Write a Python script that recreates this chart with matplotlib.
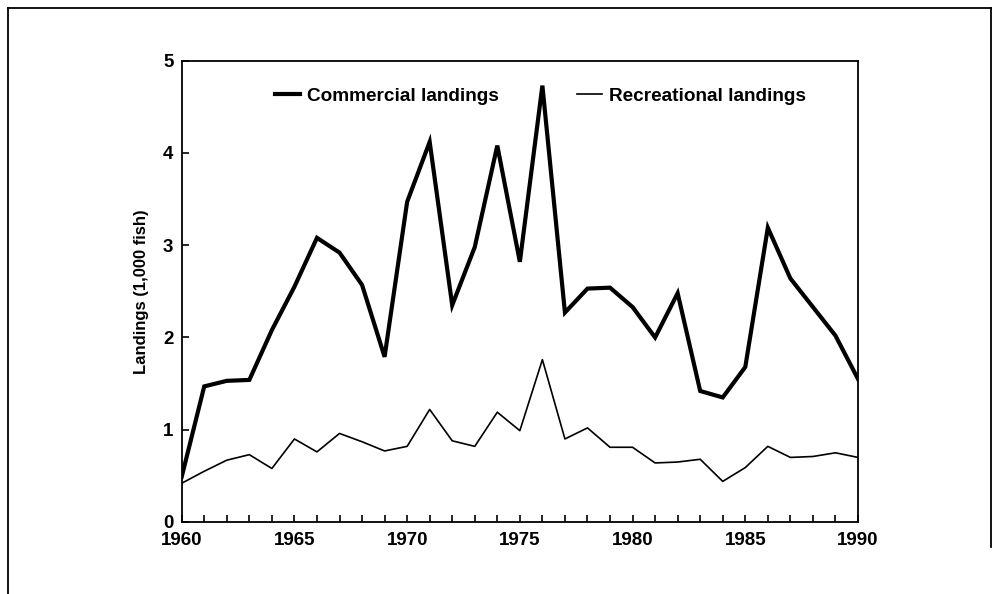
import matplotlib
matplotlib.use("Agg")
import matplotlib.pyplot as plt
from matplotlib.lines import Line2D

years = list(range(1960, 1991))
commercial = [0.49, 1.47, 1.53, 1.54, 2.08, 2.55, 3.08, 2.92, 2.57, 1.79,
              3.47, 4.12, 2.35, 2.98, 4.08, 2.82, 4.73, 2.27, 2.53, 2.54,
              2.33, 2.00, 2.48, 1.42, 1.35, 1.68, 3.19, 2.64, 2.33, 2.02, 1.55]
recreational = [0.42, 0.55, 0.67, 0.73, 0.58, 0.90, 0.76, 0.96, 0.87, 0.77,
                0.82, 1.22, 0.88, 0.82, 1.19, 0.99, 1.76, 0.90, 1.02, 0.81,
                0.81, 0.64, 0.65, 0.68, 0.44, 0.59, 0.82, 0.70, 0.71, 0.75, 0.70]
xticks_major = [1960, 1965, 1970, 1975, 1980, 1985, 1990]
yticks = [0, 1, 2, 3, 4, 5]
ylabel = "Landings (1,000 fish)"
labels = ["Commercial landings", "Recreational landings"]

plt.rcParams['font.family'] = ['Liberation Sans', 'DejaVu Sans']
plt.rcParams['font.weight'] = 'bold'

fig = plt.figure(figsize=(9.96, 5.94), dpi=100)
W, H = 996, 594
ax = fig.add_axes([181.7 / W, (H - 522) / H, (858 - 181.7) / W, (522 - 60.7) / H])

ax.plot(years, commercial, color='black', lw=3.0, solid_joinstyle='miter', label=labels[0])
ax.plot(years, recreational, color='black', lw=1.2, label=labels[1])

ax.set_xlim(1960, 1990)
ax.set_ylim(0, 5)
ax.set_xticks(xticks_major)
ax.set_xticks(years, minor=True)
ax.set_yticks(yticks)
ax.tick_params(axis='both', which='both', direction='in', labelsize=13.5, width=1.2, color='black')
ax.tick_params(axis='x', which='major', length=5, pad=7)
ax.tick_params(axis='x', which='minor', length=5)
ax.tick_params(axis='y', which='major', length=5, pad=6)
for lab in ax.get_xticklabels() + ax.get_yticklabels():
    lab.set_fontweight('bold')
ax.set_ylabel(ylabel, fontsize=12, fontweight='bold', labelpad=10)
for s in ax.spines.values():
    s.set_linewidth(1.3)
    s.set_color('black')

leg = ax.legend(loc='center left', bbox_to_anchor=(0.138, 0.923), ncol=2, frameon=False,
                borderpad=0, borderaxespad=0, handlelength=1.3, handletextpad=0.38,
                columnspacing=4.1, prop={'size': 13.7, 'weight': 'bold'})

# outer frame of the figure (open at the bottom)
fig.add_artist(Line2D([8 / W, 8 / W], [0, 1 - 8 / H], transform=fig.transFigure, color='black', lw=1.3))
fig.add_artist(Line2D([8 / W, 991 / W], [1 - 8 / H, 1 - 8 / H], transform=fig.transFigure, color='black', lw=1.3))
fig.add_artist(Line2D([991 / W, 991 / W], [1 - 8 / H, (H - 547) / H], transform=fig.transFigure, color='black', lw=1.3))

fig.savefig("out.png", dpi=100)
